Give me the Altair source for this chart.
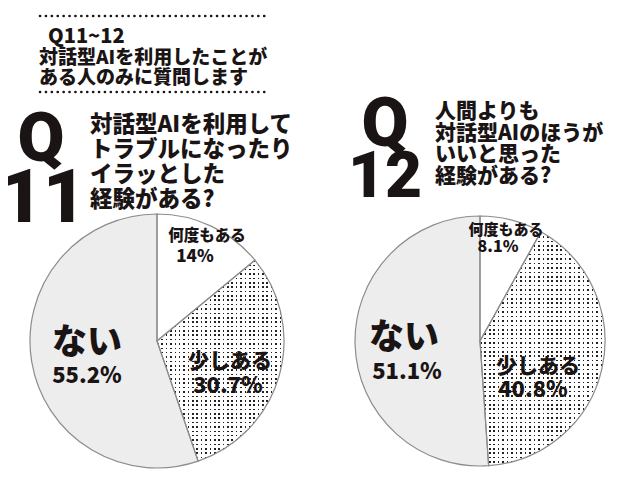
import altair as alt
import pandas as pd
import math

# answers (same three categories for both questions)
CATEGORIES = ["何度もある", "少しある", "ない"]
Q11_VALUES = [14.0, 30.7, 55.2]
Q12_VALUES = [8.1, 40.8, 51.1]
FILLS = ["#ffffff", "#c6c6c6", "#ededed"]

HEADER_TITLE = "Q11~12"
HEADER_LINES = ["対話型AIを利用したことが", "ある人のみに質問します"]
Q11_LINES = ["対話型AIを利用して", "トラブルになったり", "イラッとした", "経験がある?"]
Q12_LINES = ["人間よりも", "対話型AIのほうが", "いいと思った", "経験がある?"]

FONT = "Noto Sans CJK JP"
NUM_FONT = "Roboto"
INK = "#1a1414"
W, H = 624, 463
M = 8  # page margin, positions below are page pixels
DOT_STEP = 4.4  # screen-tone spacing in px


def one_row():
    return alt.Chart(pd.DataFrame({"k": [0]}))


def text(s, x, y, size, align="left", baseline="middle", font=FONT, weight=900):
    return one_row().mark_text(
        text=s, font=font, fontSize=size, fontWeight=weight, color=INK,
        align=align, baseline=baseline,
    ).encode(x=alt.value(x - M), y=alt.value(y - M))


def dotted(y, x0, x1):
    return one_row().mark_rule(
        color=INK, strokeWidth=2.6, strokeDash=[0.1, 5.8], strokeCap="round"
    ).encode(x=alt.value(x0 - M), x2=alt.value(x1 - M), y=alt.value(y - M))


def stripes(n, duty, on, off):
    stops = []
    for k in range(n):
        a, b, c = k / n, (k + duty) / n, (k + 1) / n
        stops += [
            alt.GradientStop(color=on, offset=a),
            alt.GradientStop(color=on, offset=b),
            alt.GradientStop(color=off, offset=b),
            alt.GradientStop(color=off, offset=c),
        ]
    return stops


def wedge_box(values, idx, r):
    # size of the bounding box of one slice (for the tone pattern)
    tot = sum(values)
    a0 = 2 * math.pi * sum(values[:idx]) / tot
    a1 = 2 * math.pi * sum(values[: idx + 1]) / tot
    pts = [(0.0, 0.0)]
    for a in [a0, a1] + [k * math.pi / 2 for k in range(5) if a0 < k * math.pi / 2 < a1]:
        pts.append((r * math.sin(a), -r * math.cos(a)))
    xs = [p[0] for p in pts]
    ys = [p[1] for p in pts]
    return max(xs) - min(xs), max(ys) - min(ys)


def pie(values, cx, cy, r):
    df = pd.DataFrame({"category": CATEGORIES, "value": values, "order": [0, 1, 2]})
    base = alt.Chart(df).transform_stack(
        stack="value", groupby=[], as_=["v0", "v1"],
        sort=[alt.SortField("order")], offset="normalize",
    )
    enc = dict(
        theta=alt.Theta("v0:Q", scale=alt.Scale(domain=[0, 1])),
        theta2="v1:Q",
        x=alt.value(cx - M),
        y=alt.value(cy - M),
    )
    fills = base.mark_arc(radius=r, strokeWidth=0).encode(
        color=alt.Color(
            "category:N", scale=alt.Scale(domain=CATEGORIES, range=FILLS), legend=None
        ),
        **enc,
    )
    # dotted screen tone on the middle answer
    w, h = wedge_box(values, 1, r)
    tone = base.transform_filter(alt.FieldEqualPredicate(field="category", equal=CATEGORIES[1]))
    cols = tone.mark_arc(
        radius=r, strokeWidth=0,
        fill=alt.LinearGradient(
            gradient="linear", x1=0, x2=1, y1=0, y2=0,
            stops=stripes(round(w / DOT_STEP), 0.36, "#222222", "#ffffff"),
        ),
    ).encode(**enc)
    rows = tone.mark_arc(
        radius=r, strokeWidth=0,
        fill=alt.LinearGradient(
            gradient="linear", x1=0, x2=0, y1=0, y2=1,
            stops=stripes(round(h / DOT_STEP), 0.36, "transparent", "#ffffff"),
        ),
    ).encode(**enc)
    outline = base.mark_arc(
        radius=r, stroke="#8c8c8c", strokeWidth=1.2, fillOpacity=0, fill="white"
    ).encode(**enc)
    return [fills, cols, rows, outline]


def pct(v):
    return f"{v:g}%"


layers = (
    pie(Q11_VALUES, 157, 341, 127)
    + pie(Q12_VALUES, 480, 341, 125)
    + [
        # header block
        dotted(16, 40, 270),
        dotted(92, 40, 270),
        text(HEADER_TITLE, 48, 37, 20),
        text(HEADER_LINES[0], 39, 58, 19),
        text(HEADER_LINES[1], 39, 78, 19),
        # big question numbers
        text("Q", 41, 161, 68, align="center", baseline="alphabetic", font=NUM_FONT),
        text("11", 43, 222, 74, align="center", baseline="alphabetic", font=NUM_FONT),
        text("Q", 385, 146, 68, align="center", baseline="alphabetic", font=NUM_FONT),
        text("12", 385, 197, 64, align="center", baseline="alphabetic", font=NUM_FONT),
    ]
)

for i, line in enumerate(Q11_LINES):
    layers.append(text(line, 90, 125 + 25 * i, 22.5))
for i, line in enumerate(Q12_LINES):
    layers.append(text(line, 435, 112 + 21.7 * i, 21))

# pie labels
layers += [
    text(CATEGORIES[0], 207, 236, 15.5, align="center"),
    text(pct(Q11_VALUES[0]), 195, 257, 17, align="center"),
    text(CATEGORIES[1], 230, 362, 21, align="center"),
    text(pct(Q11_VALUES[1]), 228, 386, 22, align="center"),
    text(CATEGORIES[2], 87, 343, 35, align="center"),
    text(pct(Q11_VALUES[2]), 87, 376, 22, align="center"),
    text(CATEGORIES[0], 506, 230, 15, align="center"),
    text(pct(Q12_VALUES[0]), 498, 247, 16, align="center"),
    text(CATEGORIES[1], 538, 367, 21, align="center"),
    text(pct(Q12_VALUES[1]), 533, 390, 22, align="center"),
    text(CATEGORIES[2], 404, 338, 35, align="center"),
    text(pct(Q12_VALUES[2]), 407, 372, 22, align="center"),
]

chart = (
    alt.layer(*layers)
    .properties(width=W, height=H, autosize="none", padding=0, background="white")
    .configure_view(stroke=None)
)

chart.save("out.html", embed_options={"renderer": "svg", "actions": False})
